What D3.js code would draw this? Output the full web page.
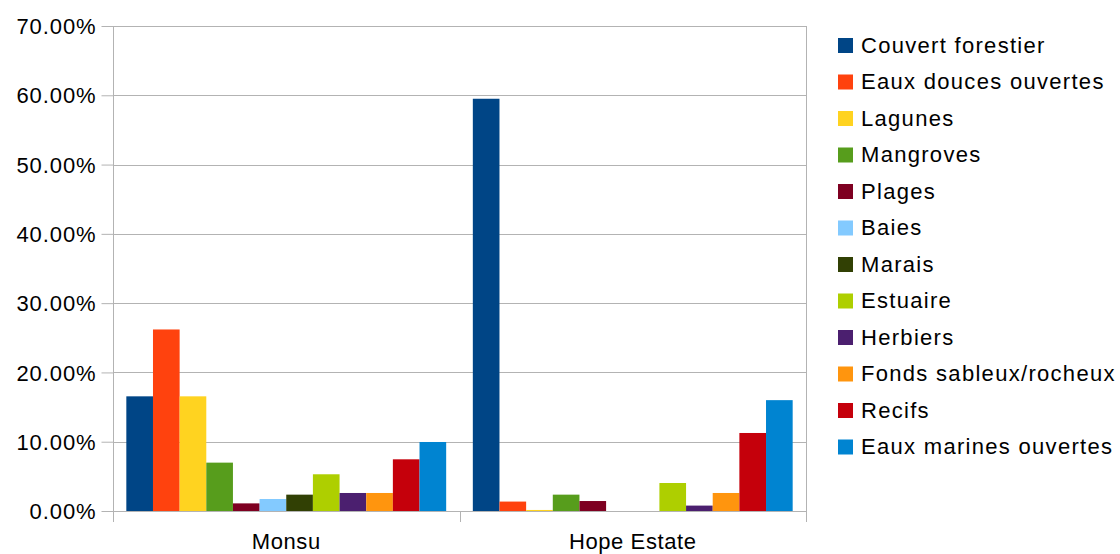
<!DOCTYPE html>
<html><head><meta charset="utf-8">
<script src="https://cdn.jsdelivr.net/npm/d3@7"></script>
<style>body{margin:0;background:#fff;}svg{display:block;font-family:"Liberation Sans",Arial,sans-serif;}</style>
</head><body><svg id="c" width="1120" height="554"></svg>
<script>
const categories = ["Monsu", "Hope Estate"];
const seriesNames = ["Couvert forestier","Eaux douces ouvertes","Lagunes","Mangroves","Plages","Baies","Marais","Estuaire","Herbiers","Fonds sableux/rocheux","Recifs","Eaux marines ouvertes"];
const monsuValues = [0.1655, 0.262, 0.1655, 0.0698, 0.011, 0.0173, 0.0236, 0.053, 0.026, 0.026, 0.0746, 0.0996];
const hopeValues  = [0.595, 0.0136, 0.0015, 0.0236, 0.0144, 0, 0, 0.0404, 0.0078, 0.026, 0.1126, 0.160];
const colors = ["#004586","#ff420e","#ffd320","#579d1c","#7e0021","#83caff","#314004","#aecf00","#4b1f6f","#ff950e","#c5000b","#0084d1"];
const yTicks = [0,0.1,0.2,0.3,0.4,0.5,0.6,0.7];

const svg = d3.select("#c");
const L = 113, R = 806, T = 26, B = 511;
const x0 = d3.scaleBand().domain(categories).range([L, R]).paddingInner(0).paddingOuter(0);
const x1 = d3.scaleBand().domain(seriesNames).range([0, x0.bandwidth()]).paddingOuter(0.5).paddingInner(0);
const y = d3.scaleLinear().domain([0, 0.7]).range([B, T]);
const grid = "#b3b3b3";

// gridlines
svg.append("g").selectAll("line").data(yTicks).join("line")
  .attr("x1", L).attr("x2", R).attr("y1", d => Math.round(y(d))+0.5).attr("y2", d => Math.round(y(d))+0.5)
  .attr("stroke", grid).attr("stroke-width", 1);

// y axis
const yAxis = d3.axisLeft(y).tickValues(yTicks).tickSize(12).tickPadding(5)
  .tickFormat(d => (d*100).toFixed(2) + "%");
const ya = svg.append("g").attr("transform", `translate(${L+0.5},0)`).call(yAxis);
ya.select(".domain").attr("stroke", grid).attr("d", `M0,${T}V${B+11}`);
ya.selectAll(".tick line").attr("stroke", grid);
ya.selectAll(".tick text").attr("fill", "#000").style("font-size", "22px").style("letter-spacing", "0.9px").attr("dy", "0.35em");

// right border
svg.append("line").attr("x1", R+0.5).attr("x2", R+0.5).attr("y1", T).attr("y2", B+11).attr("stroke", grid);

// x axis ticks
const xTicks = [L, x0("Hope Estate"), R];
svg.append("g").selectAll("line").data(xTicks).join("line")
  .attr("x1", d => Math.round(d)+0.5).attr("x2", d => Math.round(d)+0.5)
  .attr("y1", B).attr("y2", B+11).attr("stroke", grid);

// bars
const data = [monsuValues, hopeValues];
const groups = svg.append("g").selectAll("g").data(categories).join("g")
  .attr("transform", c => `translate(${x0(c)},0)`);
groups.selectAll("rect").data((c, i) => seriesNames.map((s, j) => ({s, v: data[i][j], j})))
  .join("rect")
  .attr("x", d => x1(d.s)).attr("width", x1.bandwidth())
  .attr("y", d => y(d.v)).attr("height", d => B - y(d.v))
  .attr("fill", d => colors[d.j]);

// x labels
svg.append("g").selectAll("text").data(categories).join("text")
  .attr("x", c => x0(c) + x0.bandwidth()/2).attr("y", 549)
  .attr("text-anchor", "middle").attr("fill", "#000").style("font-size", "22px").style("letter-spacing", "0.6px").text(c => c);

// legend
const lg = svg.append("g").attr("transform", "translate(838,45)");
const items = lg.selectAll("g").data(seriesNames).join("g")
  .attr("transform", (d, i) => `translate(0,${i*36.5})`);
items.append("rect").attr("x", 0).attr("y", -7).attr("width", 15).attr("height", 15).attr("fill", (d, i) => colors[i]);
items.append("text").attr("x", 23).attr("y", 0).attr("dy", "0.35em").attr("fill", "#000")
  .style("font-size", "22px").style("letter-spacing", "1.3px").text(d => d);
</script></body></html>
